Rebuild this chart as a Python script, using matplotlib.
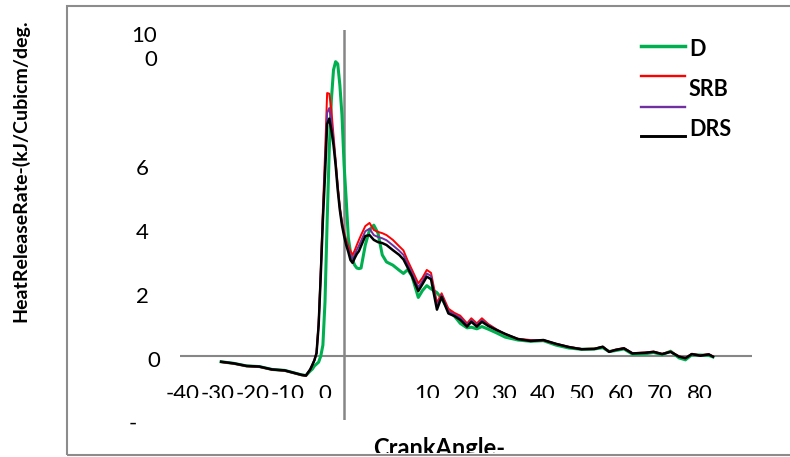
import matplotlib
matplotlib.use("Agg")
import matplotlib.pyplot as plt
from matplotlib.lines import Line2D
from matplotlib.patches import Rectangle
from matplotlib.transforms import Bbox, TransformedBbox, blended_transform_factory, offset_copy

# Heat release rate against crank angle for the four fuel blends
CRANK_ANGLE = [
    -29, -26, -23, -20, -17, -14, -12, -10, -9, -8,
    -7.5, -7, -6.5, -6, -5.5, -5, -4.5, -4, -3.5, -3,
    -2.5, -2, -1.5, -1, -0.5, 0, 0.5, 1, 1.5, 2,
    2.5, 3, 3.5, 4, 5, 6, 7, 8, 9, 10,
    11.5, 13, 14, 15, 16, 17.5, 18.5, 19.5, 20.5, 21.9,
    23, 24.6, 26, 27.4, 29, 30, 31.3, 32.5, 34, 36,
    38, 41, 44, 47, 50, 53, 56, 59, 61, 62.5,
    64, 66, 68, 71, 73, 75, 77, 79, 80.5, 82,
    84, 86, 87,
]
HRR_D = [
    -1.8, -2.3, -3.1, -3.3, -4.2, -4.5, -5.2, -5.9, -6.1, -4.7,
    -4.1, -3.1, -2.5, -1.9, 0.0, 3.4, 17.0, 42.0, 64.4, 80.0,
    89.4, 92.0, 91.3, 84.7, 75.3, 59.7, 48.8, 36.9, 32.5, 30.0,
    28.4, 27.5, 27.3, 27.5, 34.7, 39.4, 40.9, 38.4, 31.6, 29.4,
    28.4, 26.8, 25.8, 27.0, 25.0, 18.3, 20.5, 22.0, 21.0, 19.8,
    18.0, 14.3, 12.5, 10.2, 8.8, 9.0, 8.5, 9.2, 8.4, 7.2,
    5.9, 5.0, 4.6, 4.8, 3.4, 2.5, 2.1, 2.2, 2.6, 1.4,
    1.7, 2.2, 0.6, 0.7, 1.1, 0.4, 1.5, -0.6, -1.2, 0.4,
    0.3, 0.2, -0.3,
]
HRR_SRB = [
    -1.9, -2.4, -3.2, -3.4, -4.3, -4.6, -5.3, -6.0, -6.2, -4.3,
    -2.9, -1.3, 1.0, 10.5, 27.0, 46.0, 63.0, 82.2, 82.0, 76.9,
    69.0, 61.3, 53.4, 46.6, 41.9, 38.8, 36.3, 34.4, 32.8, 31.6,
    33.0, 34.7, 36.3, 37.8, 40.6, 41.6, 39.4, 38.8, 38.4, 37.8,
    36.3, 34.3, 33.0, 29.8, 27.0, 22.7, 24.5, 26.9, 26.0, 16.6,
    19.6, 14.8, 13.5, 12.6, 10.2, 11.8, 10.2, 11.8, 10.0, 8.3,
    6.8, 5.4, 5.0, 4.9, 3.8, 2.9, 2.2, 2.3, 2.9, 1.4,
    2.0, 2.5, 0.9, 1.1, 1.4, 0.7, 1.4, -0.1, -0.6, 0.7,
    0.2, 0.6, -0.1,
]
HRR_SRBD = [
    -1.8, -2.3, -3.1, -3.3, -4.2, -4.5, -5.2, -5.9, -6.1, -4.2,
    -2.8, -1.3, 0.9, 10.0, 26.0, 44.0, 60.0, 76.0, 77.5, 73.5,
    67.5, 60.5, 52.6, 46.1, 41.4, 38.1, 35.5, 33.4, 31.4, 30.3,
    31.7, 33.2, 34.5, 36.0, 39.0, 39.8, 37.8, 37.2, 36.8, 36.2,
    34.6, 32.9, 31.6, 28.7, 26.0, 21.5, 23.5, 25.8, 25.0, 15.5,
    19.0, 14.0, 13.0, 12.0, 9.7, 11.2, 9.7, 11.2, 9.7, 8.2,
    6.9, 5.3, 4.8, 5.0, 3.8, 2.8, 2.2, 2.2, 2.9, 1.3,
    1.9, 2.4, 0.9, 1.0, 1.3, 0.6, 1.3, -0.2, -0.6, 0.6,
    0.1, 0.5, -0.2,
]
HRR_DRS = [
    -1.8, -2.3, -3.1, -3.3, -4.2, -4.5, -5.2, -5.9, -6.1, -4.2,
    -2.8, -1.3, 0.9, 9.7, 25.3, 42.5, 56.6, 72.5, 74.2, 70.6,
    66.0, 59.7, 51.9, 45.6, 40.9, 37.5, 34.7, 32.5, 30.0, 29.1,
    30.6, 31.9, 32.8, 34.4, 37.5, 37.8, 36.3, 35.6, 35.3, 34.7,
    33.1, 31.6, 30.2, 27.6, 25.0, 20.3, 22.5, 24.8, 24.0, 14.5,
    18.5, 13.3, 12.5, 11.3, 9.2, 10.7, 9.2, 10.7, 9.4, 8.1,
    6.9, 5.3, 4.7, 5.0, 3.8, 2.8, 2.1, 2.2, 2.9, 1.3,
    1.9, 2.4, 0.8, 1.0, 1.3, 0.6, 1.3, -0.2, -0.7, 0.6,
    0.1, 0.5, -0.2,
]

SERIES = [HRR_D, HRR_SRB, HRR_SRBD, HRR_DRS]
LEGEND_TEXT = ["D", "SRB", "DRS"]
COLORS = ["#00B050", "#FF0000", "#7030A0", "#000000"]
WIDTHS = [2.2, 1.4, 1.4, 1.8]

YTICK_VALUES = [100, 60, 40, 20, 0, -20]
YTICK_LABELS = ["10\n0", "6", "4", "2", "0", "-"]
XTICK_LABELS = ["-40", "-30", "-20", "-10", "0",
                "10", "20", "30", "40", "50", "60", "70", "80"]

AXIS_GREY = "#868686"
FONT = "Lato"

W, H = 790, 457


def fx(px):
    return px / W


def fy(py):
    return 1 - py / H


fig = plt.figure(figsize=(W / 100, H / 100), dpi=100)
fig.patch.set_facecolor("white")

# outer chart-area border (runs off the right edge)
frame = Rectangle((fx(67), fy(455)), fx(800) - fx(67), fy(6) - fy(455),
                  transform=fig.transFigure, fill=False,
                  edgecolor="#8C8C8C", linewidth=1.5)
fig.add_artist(frame)
inner = TransformedBbox(Bbox.from_extents(fx(68), fy(453), fx(790), fy(7)),
                        fig.transFigure)

ax = fig.add_axes([fx(180), fy(420), fx(752) - fx(180), fy(30) - fy(420)])
ax.set_xlim(-38.7, 96.2)
ax.set_ylim(-20, 101.9)
for s in ax.spines.values():
    s.set_visible(False)
ax.set_xticks([])
ax.set_yticks([])
ax.patch.set_alpha(0)

ax.axhline(0, color=AXIS_GREY, linewidth=1.5, zorder=1)
ax.axvline(0, color=AXIS_GREY, linewidth=1.8, zorder=1)

for vals, c, lw in zip(SERIES, COLORS, WIDTHS):
    ax.plot(CRANK_ANGLE, vals, color=c, linewidth=lw,
            solid_joinstyle="round", zorder=3)

# value-axis labels sit out at the low end, Excel style
ylab_right = [157, 149, 149, 149, 160, 137]
ylab_shift = [12, 5, 5, 5, 5, 4]
ytrans = blended_transform_factory(fig.transFigure, ax.transData)
for v, lab, xr, dy in zip(YTICK_VALUES, YTICK_LABELS, ylab_right, ylab_shift):
    t = offset_copy(ytrans, fig=fig, y=-dy, units="dots")
    fig.text(fx(xr), v, lab, transform=t, ha="right", va="center",
             fontsize=16, family=FONT, linespacing=1.2)

# category labels along the bottom, clipped at the lower edge
xlab_centre = [183, 218, 253, 288, 325, 427, 466, 504, 543, 582, 621, 660, 700]
tick_clip = TransformedBbox(Bbox.from_extents(0, fy(398), 1, 1), fig.transFigure)
for lab, xc in zip(XTICK_LABELS, xlab_centre):
    t = fig.text(fx(xc), fy(384), lab, ha="center", va="top",
                 fontsize=16, family=FONT)
    t.set_clip_box(tick_clip)
    t.set_clip_on(True)

xl = fig.text(fx(439), fy(437), "CrankAngle-", ha="center", va="top",
              fontsize=17, fontweight="bold", family=FONT)
xl.set_clip_box(inner)
xl.set_clip_on(True)

fig.text(fx(20), fy(171), "HeatReleaseRate-(kJ/Cubicm/deg.", rotation=90,
         ha="center", va="center", fontsize=14, fontweight="bold", family=FONT)

# legend: four keys, three names
key_y = [46, 76, 106.5, 136]
for c, lw, ky in zip(COLORS, WIDTHS, key_y):
    fig.add_artist(Line2D([fx(641), fx(685)], [fy(ky), fy(ky)],
                          transform=fig.transFigure, color=c, linewidth=lw + 0.3))
for name, ty in zip(LEGEND_TEXT, [50, 90, 129]):
    fig.text(fx(689), fy(ty), name, ha="left", va="center",
             fontsize=15.5, fontweight="bold", family=FONT)

fig.savefig("out.png", dpi=100, facecolor="white")
